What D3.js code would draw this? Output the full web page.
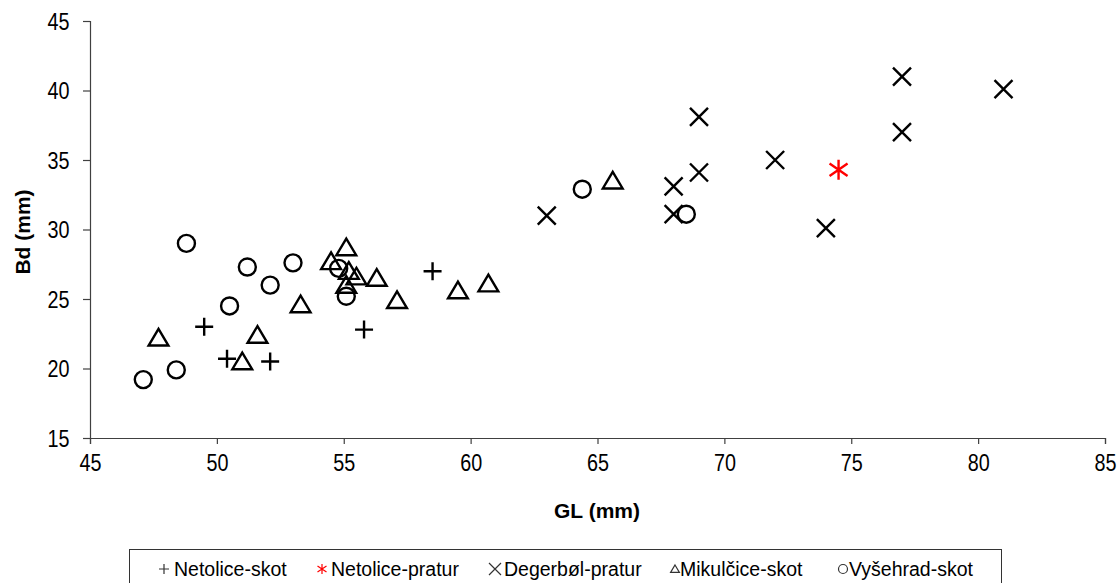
<!DOCTYPE html>
<html>
<head>
<meta charset="utf-8">
<script src="https://cdn.jsdelivr.net/npm/d3@7/dist/d3.min.js"></script>
<style>
  body{ margin:0; background:#fff; }
  svg text{ font-family:"Liberation Sans", Arial, sans-serif; fill:#000; }
</style>
</head>
<body>
<svg id="chart" width="1118" height="583"></svg>
<script>
// series: GL (mm) / Bd (mm)
const netoliceSkotGL = [49.5, 50.4, 52.1, 55.8, 58.5];
const netoliceSkotBd = [23.0, 20.7, 20.5, 22.8, 27.0];

const netolicePraturGL = [74.5];
const netolicePraturBd = [34.3];

const degerbolGL = [63.0, 68.0, 68.0, 69.0, 69.0, 72.0, 74.0, 77.0, 77.0, 81.0];
const degerbolBd = [31.0, 33.1, 31.1, 38.1, 34.1, 35.0, 30.1, 41.0, 37.0, 40.1];

const mikulciceGL = [47.7, 51.0, 51.6, 53.3, 54.5, 55.1, 55.2, 55.5, 55.1, 56.3, 57.1, 59.5, 60.7, 65.6];
const mikulciceBd = [22.2, 20.5, 22.4, 24.6, 27.7, 28.7, 27.0, 26.6, 26.0, 26.5, 24.9, 25.6, 26.1, 33.5];

const vysehradGL = [47.1, 48.4, 48.8, 50.5, 51.2, 52.1, 53.0, 54.8, 55.1, 64.4, 68.5];
const vysehradBd = [19.2, 19.9, 29.0, 24.5, 27.3, 26.0, 27.6, 27.2, 25.2, 32.9, 31.1];

const xTicks = [45, 50, 55, 60, 65, 70, 75, 80, 85];
const yTicks = [15, 20, 25, 30, 35, 40, 45];

const seriesNames = ['Netolice-skot', 'Netolice-pratur', 'Degerbøl-pratur', 'Mikulčice-skot', 'Vyšehrad-skot'];

(function(){
  const svg = d3.select('#chart');
  const m = { left:90, right:1105, top:21, bottom:438 };

  const x = d3.scaleLinear().domain([45, 85]).range([m.left, m.right]);
  const y = d3.scaleLinear().domain([15, 45]).range([m.bottom, m.top]);

  // marker shapes, s = half size
  const shapes = {
    plus: s => `M${-s},0H${s}M0,${-s}V${s}`,
    cross: s => `M${-s},${-s}L${s},${s}M${-s},${s}L${s},${-s}`,
    star: s => {
      const a = s*0.62;
      return `M0,${-s}V${s}M${-s*0.9},${-a}L${s*0.9},${a}M${-s*0.9},${a}L${s*0.9},${-a}`;
    },
    tri: s => `M0,${-s}L${s*1.1},${s*0.85}H${-s*1.1}Z`,
    circ: s => `M${s},0A${s},${s} 0 1 1 ${-s},0A${s},${s} 0 1 1 ${s},0Z`
  };

  const series = [
    { name:seriesNames[0], gl:netoliceSkotGL, bd:netoliceSkotBd, shape:'plus', size:9, color:'#000' },
    { name:seriesNames[1], gl:netolicePraturGL, bd:netolicePraturBd, shape:'star', size:10, color:'#ff0000' },
    { name:seriesNames[2], gl:degerbolGL, bd:degerbolBd, shape:'cross', size:9, color:'#000' },
    { name:seriesNames[3], gl:mikulciceGL, bd:mikulciceBd, shape:'tri', size:9, color:'#000' },
    { name:seriesNames[4], gl:vysehradGL, bd:vysehradBd, shape:'circ', size:8.5, color:'#000' }
  ];

  // axes (tick labels are slightly condensed in the original)
  const axisColor = '#404040';
  const sx = 0.86;
  const gx = svg.append('g').attr('transform', `translate(0,${m.bottom})`)
    .call(d3.axisBottom(x).tickValues(xTicks).tickSize(6).tickPadding(11).tickFormat(d3.format('d')));
  const gy = svg.append('g').attr('transform', `translate(${m.left},0)`)
    .call(d3.axisLeft(y).tickValues(yTicks).tickSize(7).tickPadding(13).tickFormat(d3.format('d')));
  [gx, gy].forEach(g=>{
    g.select('.domain').attr('stroke', axisColor).attr('stroke-width', 1.2);
    g.selectAll('.tick line').attr('stroke', axisColor).attr('stroke-width', 1.2);
    g.selectAll('.tick text').attr('font-size', '23px').attr('fill', '#1a1a1a')
      .attr('transform', `scale(${sx},1)`)
      .style('font-family', '"Liberation Sans", Arial, sans-serif');
  });
  gy.selectAll('.tick text').attr('dy', '0.35em').attr('x', -20.5/sx);

  // axis titles
  svg.append('text').attr('x', 597).attr('y', 511).attr('dy', '0.35em')
    .attr('text-anchor', 'middle').attr('font-size', '21px').attr('font-weight', 'bold')
    .text('GL (mm)');
  svg.append('text').attr('transform', `translate(23,232) rotate(-90)`).attr('dy', '0.35em')
    .attr('text-anchor', 'middle').attr('font-size', '21px').attr('font-weight', 'bold')
    .text('Bd (mm)');

  // points
  series.forEach(s=>{
    const pts = s.gl.map((g,i)=>[g, s.bd[i]]);
    svg.append('g').selectAll('path').data(pts).enter().append('path')
      .attr('transform', d=>`translate(${x(d[0])},${y(d[1])})`)
      .attr('d', shapes[s.shape](s.size))
      .attr('fill', 'none').attr('stroke', s.color).attr('stroke-width', 2.4);
  });

  // legend
  const legend = svg.append('g');
  legend.append('rect').attr('x', 129.5).attr('y', 549.5).attr('width', 872).attr('height', 40)
    .attr('fill', '#fff').attr('stroke', '#333').attr('stroke-width', 1);
  const markX = [164, 322, 495, 675, 843];
  const textX = [174, 331, 504, 680, 849];
  const markSize = { plus:5, star:5, cross:6, tri:4, circ:4.5 };
  series.forEach((s,i)=>{
    legend.append('path').attr('transform', `translate(${markX[i]},569)`)
      .attr('d', shapes[s.shape](markSize[s.shape]))
      .attr('fill', 'none').attr('stroke', s.color === '#000' ? '#333' : s.color).attr('stroke-width', 1.2);
    legend.append('text').attr('x', textX[i]).attr('y', 569).attr('dy', '0.35em')
      .attr('font-size', '19.5px').attr('fill', '#1a1a1a').text(s.name);
  });
})();
</script>
</body>
</html>
